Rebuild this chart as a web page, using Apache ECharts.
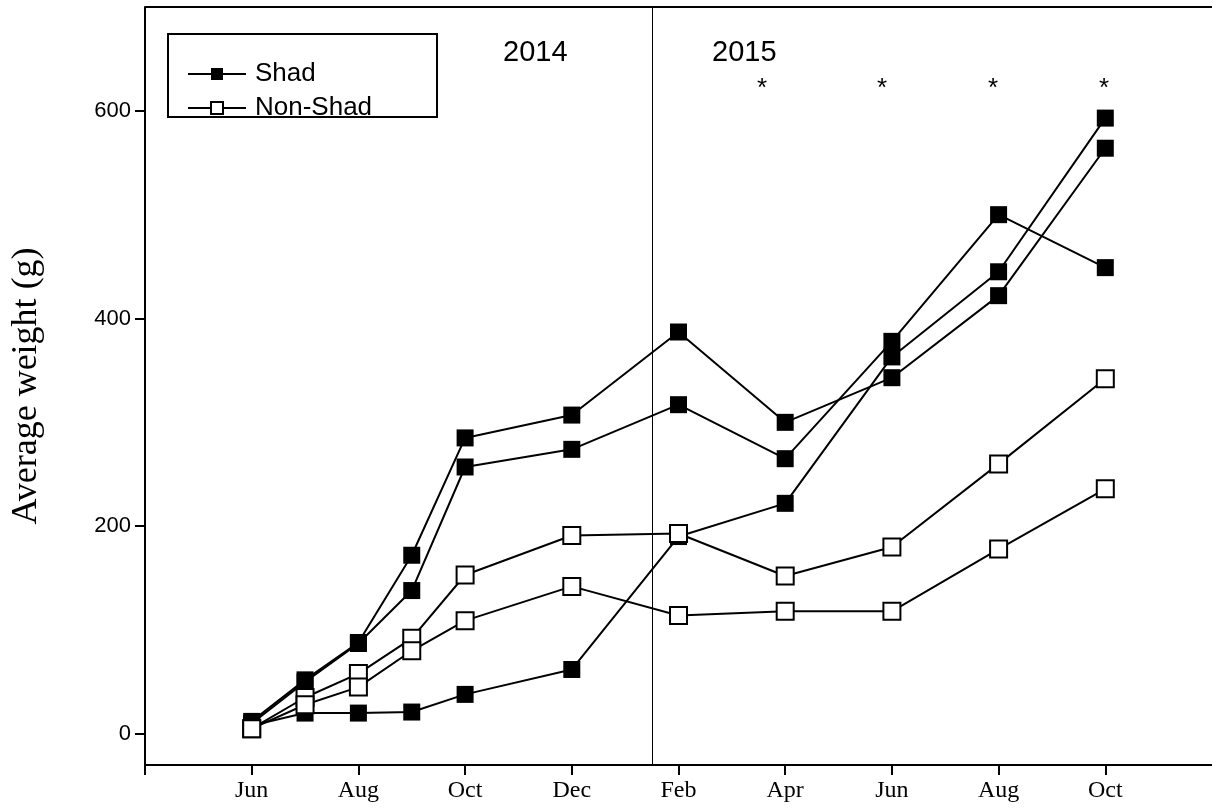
<!DOCTYPE html>
<html><head><meta charset="utf-8">
<script src="https://cdn.jsdelivr.net/npm/echarts@6/dist/echarts.min.js"></script>
<style>html,body{margin:0;background:#fff}#c{width:1212px;height:809px}</style>
</head><body><div id="c"></div>
<script>
// month index: 0 = Jun 2014 ... 16 = Oct 2015
var months = [0, 1, 2, 3, 4, 6, 8, 10, 12, 14, 16];
var tickMonths = [0, 2, 4, 6, 8, 10, 12, 14, 16];
var tickLabels = ['Jun', 'Aug', 'Oct', 'Dec', 'Feb', 'Apr', 'Jun', 'Aug', 'Oct'];
var shadA = [12, 52, 88, 172, 285, 307, 387, 300, 343, 422, 564];
var shadB = [10, 50, 87, 138, 257, 274, 317, 265, 378, 500, 449];
var shadC = [8, 20, 20, 21, 38, 62, 190, 222, 363, 445, 593];
var nonA = [5, 35, 58, 92, 153, 191, 193, 152, 180, 260, 342];
var nonB = [5, 28, 45, 80, 109, 142, 114, 118, 118, 178, 236];
var yTicks = [0, 200, 400, 600];

function pts(v) { return months.map(function (m, i) { return [m, v[i]]; }); }
function shad(v) {
  return { name: 'Shad', type: 'line', data: pts(v), symbol: 'rect', symbolSize: 17,
    itemStyle: { color: '#000' }, lineStyle: { color: '#000', width: 2 } };
}
function non(v) {
  return { name: 'Non-Shad', type: 'line', data: pts(v), symbol: 'rect', symbolSize: 17,
    itemStyle: { color: '#fff', borderColor: '#000', borderWidth: 2 }, lineStyle: { color: '#000', width: 2 } };
}

var chart = echarts.init(document.getElementById('c'));
var series = [shad(shadA), shad(shadB), shad(shadC), non(nonA), non(nonB)];
series[0].markLine = { silent: true, symbol: 'none', label: { show: false },
  lineStyle: { color: '#000', width: 1, type: 'solid' }, data: [{ xAxis: 7.5 }] };

chart.setOption({
  animation: false,
  grid: { left: 145, top: 7, width: 1074, bottom: 44 },
  xAxis: { type: 'value', min: -2, max: 18,
    axisLine: { onZero: false, lineStyle: { color: '#000', width: 2 } },
    axisTick: { customValues: [-2].concat(tickMonths), length: 10, lineStyle: { color: '#000', width: 2 } },
    axisLabel: { customValues: tickMonths, formatter: function (v) { return tickLabels[tickMonths.indexOf(v)]; },
      fontFamily: 'Liberation Serif', fontSize: 24, color: '#000', margin: 14 },
    splitLine: { show: false } },
  yAxis: { type: 'value', min: -30, max: 700, name: 'Average weight (g)', nameLocation: 'middle', nameGap: 100,
    nameTextStyle: { fontFamily: 'Liberation Serif', fontSize: 36, color: '#000' },
    axisLine: { show: true, onZero: false, lineStyle: { color: '#000', width: 2 } },
    axisTick: { customValues: yTicks, length: 10, lineStyle: { color: '#000', width: 2 } },
    axisLabel: { customValues: yTicks, fontFamily: 'Liberation Sans', fontSize: 22, color: '#000', margin: 14 },
    splitLine: { show: false } },
  legend: { left: 182, top: 56, orient: 'vertical', itemGap: 8, itemWidth: 58, itemHeight: 15,
    data: ['Shad', 'Non-Shad'], textStyle: { fontFamily: 'Liberation Sans', fontSize: 26, color: '#000', padding: [0, 0, 0, 4] } },
  graphic: [
    { type: 'line', shape: { x1: 145, y1: 7, x2: 1212, y2: 7 }, style: { stroke: '#000', lineWidth: 2 } },
    { type: 'rect', shape: { x: 168, y: 34, width: 269, height: 83 }, style: { fill: 'none', stroke: '#000', lineWidth: 2 }, z: 10 },
    { type: 'text', left: 503, top: 38, style: { text: '2014', fontFamily: 'Liberation Sans', fontSize: 29, fill: '#000' } },
    { type: 'text', left: 712, top: 38, style: { text: '2015', fontFamily: 'Liberation Sans', fontSize: 29, fill: '#000' } },
    { type: 'text', left: 757, top: 76, style: { text: '*', fontFamily: 'Liberation Sans', fontSize: 26, fill: '#000' } },
    { type: 'text', left: 877, top: 76, style: { text: '*', fontFamily: 'Liberation Sans', fontSize: 26, fill: '#000' } },
    { type: 'text', left: 988, top: 76, style: { text: '*', fontFamily: 'Liberation Sans', fontSize: 26, fill: '#000' } },
    { type: 'text', left: 1099, top: 76, style: { text: '*', fontFamily: 'Liberation Sans', fontSize: 26, fill: '#000' } }
  ],
  series: series
});
</script></body></html>
